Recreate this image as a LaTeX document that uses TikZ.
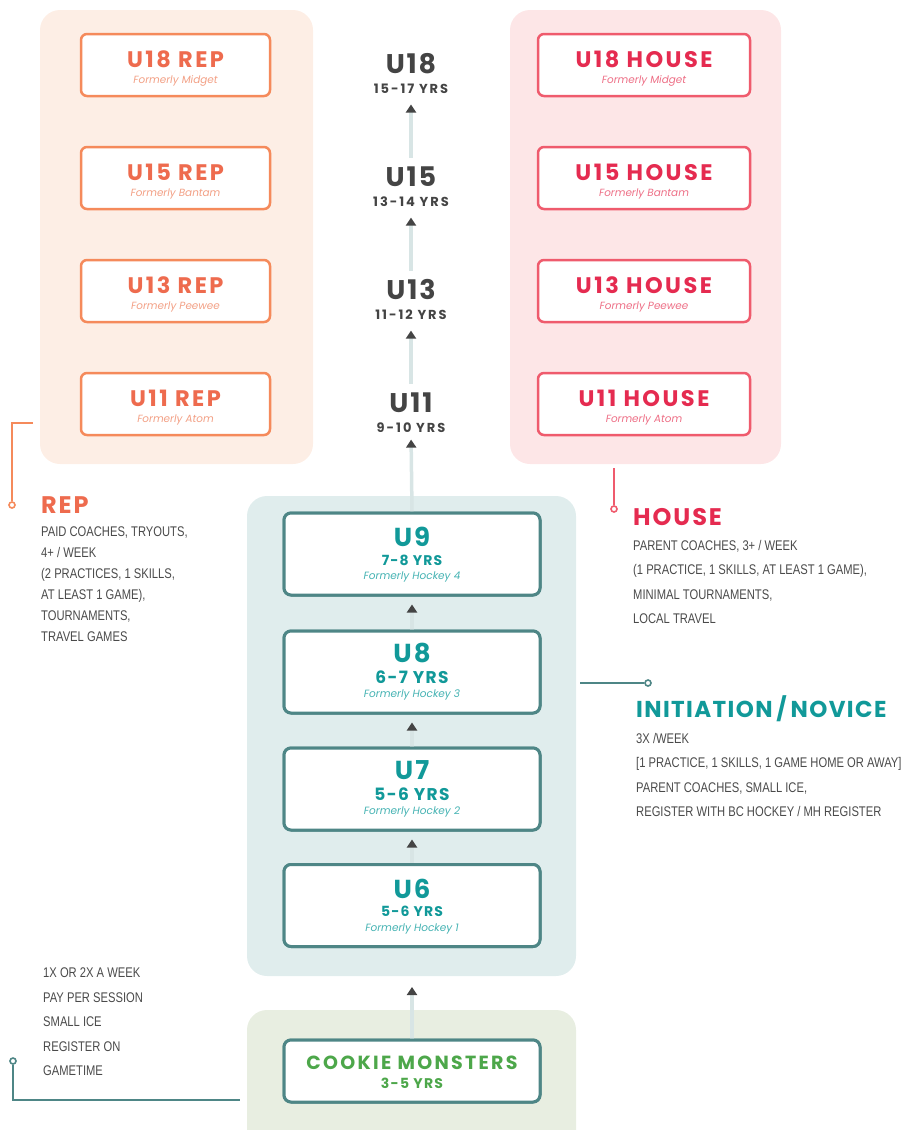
\documentclass[tikz,border=0pt]{standalone}
\usepackage{fontspec}
\setmainfont{Poppins}
\newfontfamily\pop{Poppins}
\newfontfamily\cond[FakeStretch=0.8]{Liberation Sans}
\usetikzlibrary{arrows.meta}
\definecolor{repfill}{HTML}{FDEEE5}
\definecolor{repline}{HTML}{F58A5B}
\definecolor{reptext}{HTML}{EE6B4E}
\definecolor{repsub}{HTML}{F3A085}
\definecolor{housefill}{HTML}{FDE6E7}
\definecolor{houseline}{HTML}{EF5B6D}
\definecolor{housetext}{HTML}{E52B50}
\definecolor{housesub}{HTML}{EE6F86}
\definecolor{initfill}{HTML}{E0EDED}
\definecolor{initline}{HTML}{4E8686}
\definecolor{inittext}{HTML}{119999}
\definecolor{initsub}{HTML}{45B3B3}
\definecolor{cookfill}{HTML}{E8EEE1}
\definecolor{cooktext}{HTML}{4DA74A}
\definecolor{midtext}{HTML}{444444}
\definecolor{bodytext}{HTML}{4A4A4A}
\definecolor{arrline}{HTML}{D8E5E5}
\definecolor{arrtip}{HTML}{444444}
\newcommand\ls[2]{\pop\bfseries\addfontfeatures{LetterSpace=#2}\fontsize{#1}{#1}\selectfont}
\tikzset{
  panel/.style={rounded corners=20pt, draw=none, inner sep=0pt},
  repbox/.style={draw=repline, fill=white, line width=2.5pt, rounded corners=6pt, minimum width=189pt, minimum height=62pt, inner sep=0pt},
  housebox/.style={draw=houseline, fill=white, line width=2.5pt, rounded corners=6pt, minimum width=212pt, minimum height=62pt, inner sep=0pt},
  initbox/.style={draw=initline, fill=white, line width=3pt, rounded corners=7pt, minimum width=256pt, minimum height=82pt, inner sep=0pt},
  boxtitle/.style={inner sep=0pt, font=\ls{22.5}{11}},
  boxsub/.style={inner sep=0pt, font=\pop\itshape\fontsize{10.4}{12}\selectfont},
  midtitle/.style={inner sep=0pt, text=midtext, font=\ls{27}{7}},
  midyrs/.style={inner sep=0pt, text=midtext, font=\ls{13}{15}},
  inittitle/.style={inner sep=0pt, text=inittext, font=\ls{26}{8}},
  inityrs/.style={inner sep=0pt, text=inittext},
  initsubt/.style={inner sep=0pt, text=initsub, font=\pop\itshape\fontsize{10.5}{12}\selectfont},
  heading/.style={inner sep=0pt, anchor=west, font=\ls{24}{8}},
  body/.style={inner sep=0pt, anchor=north west, align=left, text=bodytext},
  arr/.style={draw=arrline, line width=3.5pt, -{Triangle[width=10pt,length=8pt,color=arrtip]}},
  conn/.style={line width=1.6pt},
  dot/.style={circle, draw, line width=1.6pt, fill=white, inner sep=0pt, minimum size=6pt},
}
\begin{document}
\begin{tikzpicture}[x=1pt,y=-1pt]
\useasboundingbox (0,0) rectangle (908,1130);
% panels
\node[panel, fill=repfill, minimum width=273pt, minimum height=454pt] (reppanel) at (176.5,237) {};
\node[panel, fill=housefill, minimum width=271pt, minimum height=454pt] (housepanel) at (645.5,237) {};
\node[panel, fill=initfill, minimum width=329pt, minimum height=480pt] (initpanel) at (411.5,736) {};
\node[panel, fill=cookfill, minimum width=329pt, minimum height=160pt] (cookpanel) at (411.5,1090) {};

% REP boxes
\foreach \n/\y/\t/\s in {r18/65/U18 REP/Formerly Midget, r15/178/U15 REP/Formerly Bantam, r13/291/U13 REP/Formerly Peewee, r11/404/U11 REP/Formerly Atom}{
  \node[repbox] (\n) at (175.5,\y) {};
  \node[boxtitle, text=reptext] (\n t) at ([yshift=6pt]\n.center) {\t};
  \node[boxsub, text=repsub] (\n s) at ([yshift=-16pt]\n.center) {\s};
}
% HOUSE boxes
\foreach \n/\y/\t/\s in {h18/65/U18 HOUSE/Formerly Midget, h15/178/U15 HOUSE/Formerly Bantam, h13/291/U13 HOUSE/Formerly Peewee, h11/404/U11 HOUSE/Formerly Atom}{
  \node[housebox] (\n) at (644,\y) {};
  \node[boxtitle, text=housetext] (\n t) at ([yshift=6pt]\n.center) {\t};
  \node[boxsub, text=housesub] (\n s) at ([yshift=-16pt]\n.center) {\s};
}
% middle ladder
\foreach \n/\y/\t/\s in {m18/64/U18/15-17 YRS, m15/177/U15/13-14 YRS, m13/290/U13/11-12 YRS, m11/403/U11/9-10 YRS}{
  \node[midtitle] (\n t) at (411,\y) {\t};
  \node[midyrs] (\n y) at (411,\y+24.5) {\s};
}
\draw[arr, shorten <=9pt, shorten >=11pt] (m15t.north) -- (m18y.south);
\draw[arr, shorten <=9pt, shorten >=11pt] (m13t.north) -- (m15y.south);
\draw[arr, shorten <=9pt, shorten >=11pt] (m11t.north) -- (m13y.south);

% initiation boxes
\foreach \n/\y in {u9/554, u8/672, u7/789, u6/905.5}{
  \node[initbox] (\n) at (412,\y) {};
}
\draw[arr, shorten >=7pt] (u9.north) -- (m11y.south);
\draw[arr, shorten >=8pt] (u8.north) -- (u9.south);
\draw[arr, shorten >=8pt] (u7.north) -- (u8.south);
\draw[arr, shorten >=8pt] (u6.north) -- (u7.south);
\foreach \n/\y/\t/\s/\f/\z/\ty/\yy in {u9/554/U9/7-8 YRS/Formerly Hockey 4/14/17/-6, u8/672/U8/6-7 YRS/Formerly Hockey 3/17/19/-5, u7/789/U7/5-6 YRS/Formerly Hockey 2/17/19/-5, u6/905.5/U6/5-6 YRS/Formerly Hockey 1/14/17/-6}{
  \node[initbox] (\n) at (412,\y) {};
  \node[inittitle] (\n t) at ([yshift=\ty pt]\n.center) {\t};
  \node[inityrs, font=\ls{\z}{8}] (\n y) at ([yshift=\yy pt]\n.center) {\s};
  \node[initsubt] (\n s) at ([yshift=-23pt]\n.center) {\f};
}

% cookie
\coordinate (cooktip) at (412,987);
\node[initbox, minimum height=62pt] (cook) at (412,1071) {};
\draw[arr] (cook.north) -- (cooktip);
\node[initbox, minimum height=62pt] (cook) at (412,1071) {};
\node[inner sep=0pt, text=cooktext, font=\ls{19}{12}] (cookt) at (412,1063) {COOKIE MONSTERS};
\node[inner sep=0pt, text=cooktext, font=\ls{14}{9}] (cooky) at (412,1083) {3-5 YRS};

% REP side
\coordinate (repA) at (33,423);
\coordinate (repB) at (12,423);
\node[dot, draw=repline] (repdot) at (12,505) {};
\draw[conn, draw=repline] (repA) -- (repB) -- (repdot.north);
\node[heading, text=reptext] (rephead) at (41,505) {REP};
\node[body, font=\cond\fontsize{14}{21}\selectfont] (repbody) at (41,527) {PAID COACHES, TRYOUTS,\\4+ / WEEK\\(2 PRACTICES, 1 SKILLS,\\AT LEAST 1 GAME),\\TOURNAMENTS,\\TRAVEL GAMES};

% HOUSE side
\coordinate (houseA) at (614,468);
\node[dot, draw=houseline] (housedot) at (614,509) {};
\draw[conn, draw=houseline] (houseA) -- (housedot.north);
\node[heading, text=housetext] (househead) at (633,517) {HOUSE};
\node[body, font=\cond\fontsize{14}{24.5}\selectfont] (housebody) at (633,540) {PARENT COACHES, 3+ / WEEK\\(1 PRACTICE, 1 SKILLS, AT LEAST 1 GAME),\\MINIMAL TOURNAMENTS,\\LOCAL TRAVEL};

% INITIATION side
\coordinate (initA) at (580,683);
\node[dot, draw=initline] (initdot) at (648,683) {};
\draw[conn, draw=initline] (initA) -- (initdot.west);
\node[heading, text=inittext, font=\ls{23}{6}] (inithead) at (636,709) {INITIATION\,/\,NOVICE};
\node[body, font=\cond\fontsize{14}{24.5}\selectfont] (initbody) at (636,733) {3X /WEEK\\{[1 PRACTICE, 1 SKILLS, 1 GAME HOME OR AWAY]}\\PARENT COACHES, SMALL ICE,\\REGISTER WITH BC HOCKEY / MH REGISTER};

% COOKIE side
\node[body, font=\cond\fontsize{14}{24.5}\selectfont] (cookbody) at (43,968) {1X OR 2X A WEEK\\PAY PER SESSION\\SMALL ICE\\REGISTER ON\\GAMETIME};
\node[dot, draw=initline] (cookdot) at (13,1061) {};
\coordinate (cookA) at (13,1100);
\coordinate (cookB) at (240,1100);
\draw[conn, draw=initline] (cookdot.south) -- (cookA) -- (cookB);
\end{tikzpicture}
\end{document}
